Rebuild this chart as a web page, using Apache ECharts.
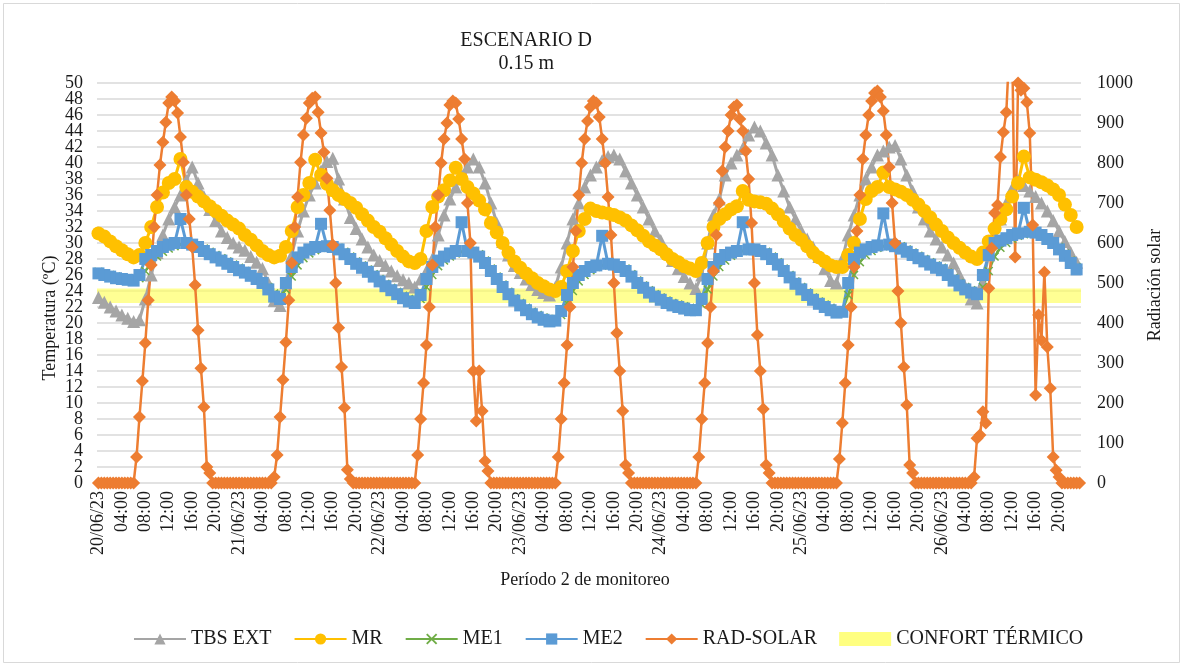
<!DOCTYPE html>
<html><head><meta charset="utf-8">
<script src="https://cdn.jsdelivr.net/npm/echarts@6/dist/echarts.min.js"></script>
<style>html,body{margin:0;padding:0;background:#fff}#c{width:1184px;height:667px}</style>
</head><body><div id="c"></div>
<script>
// ---- data ----
const dayLabels = ['20/06/23','21/06/23','22/06/23','23/06/23','24/06/23','25/06/23','26/06/23'];
// temperatures: hourly readings (24 per day)
const tbsExt = [
 23.2,22.6,22.0,21.5,21.0,20.6,20.2,20.4,23.0,26.0,28.8,31.0,33.0,34.5,36.0,37.8,39.5,37.5,35.8,34.2,32.8,31.5,30.7,30.0,
 29.5,29.1,28.3,27.6,26.8,25.0,22.8,22.2,25.0,28.5,31.5,34.0,36.0,37.5,39.0,40.2,40.6,38.0,35.5,33.2,31.8,30.5,29.5,28.5,
 27.8,27.2,26.5,25.9,25.4,25.0,24.5,25.5,26.5,28.0,31.0,33.5,35.5,37.0,38.5,39.5,40.5,39.5,37.5,35.0,32.5,30.2,28.5,27.2,
 26.3,25.5,24.8,24.2,23.8,23.5,24.5,27.0,30.0,33.0,35.0,37.0,38.5,39.5,40.3,40.8,41.0,40.5,39.0,37.5,36.0,34.5,33.0,31.5,
 30.3,29.0,27.8,26.8,25.8,25.0,24.3,26.0,30.0,33.5,35.5,38.5,40.0,41.0,41.8,43.5,44.5,44.0,42.5,41.0,38.5,36.5,34.5,33.0,
 31.5,30.5,29.5,28.3,26.8,25.3,25.0,28.0,31.0,33.5,36.0,38.0,39.5,41.0,41.5,42.0,42.2,40.5,38.5,36.5,34.5,33.0,31.5,30.5,
 29.5,28.5,27.5,26.0,24.5,23.0,22.5,25.0,28.5,30.5,33.0,35.0,36.8,37.8,37.2,36.5,35.8,35.0,34.0,32.8,31.5,30.2,28.8,27.6
];
const mr = [
 31.2,30.8,30.2,29.6,29.1,28.6,28.2,28.5,30.0,32.0,34.5,36.3,37.5,38.0,40.5,37.0,36.4,35.8,35.2,34.6,34.0,33.4,32.8,32.3,
 31.8,31.0,30.4,29.7,29.0,28.5,28.2,28.4,29.5,31.5,34.5,36.0,37.5,40.4,38.5,37.4,36.6,36.0,35.5,35.0,34.4,33.6,32.8,32.0,
 31.4,30.6,29.8,29.0,28.3,27.7,27.5,28.0,31.5,34.5,35.8,36.6,37.8,39.4,38.0,37.0,36.2,35.3,34.2,32.5,31.3,30.0,28.8,27.7,
 26.9,26.2,25.6,25.0,24.6,24.2,24.0,24.5,26.5,29.0,31.5,33.0,34.3,34.0,33.8,33.7,33.5,33.2,32.8,32.2,31.6,30.9,30.2,29.7,
 29.2,28.6,28.0,27.6,27.1,26.8,26.5,27.5,30.0,32.0,33.0,33.6,34.2,34.6,36.5,35.4,35.2,35.1,34.9,34.3,33.6,32.7,31.8,31.0,
 30.4,29.6,28.8,28.2,27.7,27.2,27.0,27.0,28.5,30.0,33.0,35.5,36.5,37.0,38.8,37.0,36.7,36.4,36.0,35.4,34.8,34.0,33.2,32.3,
 31.5,30.7,30.0,29.4,28.8,28.3,28.0,28.8,30.2,31.8,33.0,34.2,35.8,37.5,40.8,38.2,37.9,37.6,37.2,36.7,36.0,34.8,33.5,32.0
];
const me1 = [
 26.4,26.2,26.0,25.8,25.7,25.6,25.5,25.6,26.5,27.5,28.3,28.9,29.3,29.6,29.8,29.9,29.9,29.7,29.3,28.9,28.5,28.1,27.7,27.3,
 26.9,26.5,26.1,25.7,25.2,24.5,23.7,23.3,24.2,25.8,27.2,28.1,28.7,29.1,29.4,29.6,29.6,29.4,28.9,28.3,27.7,27.2,26.7,26.1,
 25.5,24.9,24.4,23.9,23.4,23.0,22.8,23.0,24.5,26.0,27.1,27.8,28.3,28.7,28.9,29.0,29.0,28.6,27.8,26.8,25.8,24.8,23.9,23.1,
 22.5,21.9,21.4,21.0,20.7,20.5,20.5,21.0,22.5,24.0,25.2,26.0,26.6,27.0,27.2,27.4,27.4,27.2,26.8,26.1,25.3,24.7,24.1,23.6,
 23.2,22.8,22.5,22.3,22.1,21.9,21.8,22.3,24.2,25.8,27.0,27.8,28.4,28.8,29.0,29.2,29.3,29.2,28.9,28.3,27.6,26.8,26.0,25.2,
 24.5,23.8,23.2,22.7,22.3,21.9,21.6,21.5,23.5,26.0,27.6,28.5,29.0,29.4,29.6,29.8,29.8,29.6,29.2,28.8,28.4,28.0,27.6,27.2,
 26.9,26.3,25.6,25.0,24.5,24.1,23.8,24.5,26.5,28.3,29.4,30.0,30.5,30.9,31.1,31.3,31.3,31.1,30.7,30.2,29.5,28.7,27.8,27.0
];
const me2 = [
 26.2,26.0,25.8,25.6,25.5,25.4,25.3,26.0,28.0,28.5,29.0,29.5,29.8,30.0,33.0,30.0,29.8,29.5,29.0,28.6,28.2,27.8,27.4,27.0,
 26.6,26.3,25.9,25.5,25.0,24.2,23.3,23.0,25.0,27.0,28.2,28.8,29.2,29.5,32.4,29.6,29.5,29.2,28.6,28.0,27.4,26.9,26.4,25.8,
 25.2,24.6,24.1,23.6,23.1,22.7,22.5,23.5,25.5,27.0,27.8,28.3,28.7,29.0,32.6,29.0,28.8,28.3,27.5,26.5,25.5,24.5,23.6,22.8,
 22.2,21.6,21.1,20.7,20.4,20.2,20.3,21.5,23.5,25.0,26.0,26.5,27.0,27.2,30.9,27.4,27.3,27.0,26.5,25.8,25.0,24.4,23.8,23.3,
 22.9,22.5,22.2,22.0,21.8,21.6,21.6,23.0,25.5,27.0,28.0,28.5,28.8,29.0,32.6,29.2,29.2,29.0,28.6,28.0,27.3,26.5,25.7,24.9,
 24.2,23.5,22.9,22.4,22.0,21.6,21.3,21.4,25.0,28.0,28.8,29.2,29.5,29.7,33.7,29.8,29.6,29.3,28.9,28.5,28.1,27.7,27.3,26.9,
 26.6,26.0,25.3,24.7,24.2,23.8,23.6,26.0,28.5,30.0,30.3,30.6,31.0,31.2,34.4,31.4,31.3,31.0,30.5,30.0,29.2,28.4,27.5,26.7
];
// solar radiation: half-hourly readings (48 per day)
const radSolar = [
 0,0,0,0,0,0,0,0,0,0,0,0,0,65,165,255,350,457,545,640,720,795,852,902,950,965,955,925,865,802,720,660,590,495,382,287,190,40,25,0,0,0,0,0,0,0,0,0,
 0,0,0,0,0,0,0,0,0,0,0,0,15,70,165,258,352,457,550,640,715,802,870,912,950,962,965,927,875,827,762,682,595,500,388,290,188,33,10,0,0,0,0,0,0,0,0,0,
 0,0,0,0,0,0,0,0,0,0,0,0,0,70,160,250,345,440,545,640,720,800,860,900,945,955,950,910,860,810,700,600,280,155,280,180,55,30,0,0,0,0,0,0,0,0,0,0,
 0,0,0,0,0,0,0,0,0,0,0,0,0,65,160,250,345,440,540,630,720,800,860,905,940,955,950,915,860,800,715,620,500,375,280,180,45,25,0,0,0,0,0,0,0,0,0,0,
 0,0,0,0,0,0,0,0,0,0,0,0,0,65,160,250,350,440,530,620,700,780,840,880,920,940,945,910,880,830,760,650,500,370,280,185,45,25,0,0,0,0,0,0,0,0,0,0,
 0,0,0,0,0,0,0,0,0,0,0,0,0,60,150,250,345,440,540,630,720,810,870,920,955,975,980,965,930,870,790,700,600,480,400,290,195,45,25,0,0,0,0,0,0,0,0,0,
 0,0,0,0,0,0,0,0,0,0,0,15,112,120,178,150,487,587,675,695,815,877,927,1080,1100,565,1000,982,987,952,875,645,220,420,357,527,340,237,65,32,15,0,0,0,0,0,0,0
];
const confortRange = [22.5, 24.3];
const tempTicks = {min: 0, max: 50, interval: 2};
const radTicks = {min: 0, max: 1000, interval: 100};

// categories: 30-min slots
const categories = [];
for (let d = 0; d < dayLabels.length; d++) {
  for (let s = 0; s < 48; s++) {
    const hh = String(Math.floor(s / 2)).padStart(2, '0');
    categories.push(s === 0 ? dayLabels[d] : hh + (s % 2 ? ':30' : ':00'));
  }
}
const hourly = arr => arr.map((v, i) => [i * 2, v]);

const FONT = 'Liberation Serif';
const TXT = '#1a1a1a';
const xPath = 'path://M0,1.2L1.2,0L5,3.8L8.8,0L10,1.2L6.2,5L10,8.8L8.8,10L5,6.2L1.2,10L0,8.8L3.8,5Z';
const leftLabel = {margin: 14, fontFamily: FONT, fontSize: 18, color: TXT};

const chart = echarts.init(document.getElementById('c'), null, {renderer: 'canvas'});
chart.setOption({
  animation: false,
  backgroundColor: '#fff',
  title: {
    text: 'ESCENARIO D\n0.15 m', left: 'center', top: 24,
    textStyle: {fontFamily: FONT, fontSize: 20, fontWeight: 'normal', lineHeight: 23, color: TXT},
    textAlign: 'center'
  },
  grid: {left: 97, right: 103, top: 83, bottom: 184},
  legend: {
    top: 624, left: 128, itemWidth: 52, itemHeight: 14, itemGap: 22,
    textStyle: {fontFamily: FONT, fontSize: 20, color: TXT},
    data: ['TBS EXT', 'MR', 'ME1', 'ME2', 'RAD-SOLAR', {name: 'CONFORT TÉRMICO', icon: 'rect'}]
  },
  xAxis: {
    type: 'category', data: categories, boundaryGap: true,
    axisLine: {show: false}, axisTick: {show: false},
    axisLabel: {interval: 7, rotate: 90, margin: 8, fontFamily: FONT, fontSize: 18, color: TXT}
  },
  yAxis: [
    // temperature axis: gridlines and inner labels
    {type: 'value', position: 'left', min: tempTicks.min, max: tempTicks.max, interval: tempTicks.interval,
     axisLine: {show: false}, axisTick: {show: false},
     axisLabel: Object.assign({showMinLabel: false, showMaxLabel: false}, leftLabel),
     splitLine: {lineStyle: {color: '#D9D9D9', width: 1.5}}},
    // radiation axis
    {type: 'value', position: 'right', min: radTicks.min, max: radTicks.max, interval: radTicks.interval,
     axisLine: {show: false}, axisTick: {show: false},
     axisLabel: {margin: 16, fontFamily: FONT, fontSize: 18, color: TXT, formatter: v => String(v)},
     splitLine: {show: false}},
    // temperature axis: end labels (0 and 50)
    {type: 'value', position: 'left', min: tempTicks.min, max: tempTicks.max, interval: tempTicks.max - tempTicks.min,
     axisLine: {show: false}, axisTick: {show: false}, splitLine: {show: false},
     axisLabel: leftLabel}
  ],
  graphic: [
    {type: 'rect', shape: {x: 3.5, y: 3.5, width: 1176, height: 659}, style: {fill: 'none', stroke: '#D9D9D9', lineWidth: 1}, silent: true},
    {type: 'text', x: 50, y: 318, rotation: Math.PI / 2,
     style: {text: 'Temperatura (ºC)', fontFamily: FONT, fontSize: 18, fill: TXT, align: 'center', verticalAlign: 'middle'}},
    {type: 'text', x: 1155, y: 285, rotation: Math.PI / 2,
     style: {text: 'Radiación solar', fontFamily: FONT, fontSize: 18, fill: TXT, align: 'center', verticalAlign: 'middle'}},
    {type: 'text', x: 585, y: 580,
     style: {text: 'Período 2 de monitoreo', fontFamily: FONT, fontSize: 18, fill: TXT, align: 'center', verticalAlign: 'middle'}}
  ],
  series: [
    {name: 'TBS EXT', type: 'line', data: hourly(tbsExt), symbol: 'triangle', symbolSize: 13, showAllSymbol: true,
     lineStyle: {color: '#A5A5A5', width: 3}, itemStyle: {color: '#A5A5A5'}},
    {name: 'MR', type: 'line', data: hourly(mr), symbol: 'circle', symbolSize: 14, showAllSymbol: true,
     lineStyle: {color: '#FFC000', width: 3}, itemStyle: {color: '#FFC000'}},
    {name: 'ME1', type: 'line', data: hourly(me1), symbol: xPath, symbolSize: 9, showAllSymbol: true,
     lineStyle: {color: '#70AD47', width: 2.5}, itemStyle: {color: '#70AD47'}},
    {name: 'ME2', type: 'line', data: hourly(me2), symbol: 'rect', symbolSize: 12, showAllSymbol: true,
     lineStyle: {color: '#5B9BD5', width: 3}, itemStyle: {color: '#5B9BD5'}},
    {name: 'RAD-SOLAR', type: 'line', yAxisIndex: 1, data: radSolar, symbol: 'diamond', symbolSize: 13, showAllSymbol: true,
     lineStyle: {color: '#ED7D31', width: 2.5}, itemStyle: {color: '#ED7D31'}},
    {name: 'CONFORT TÉRMICO', type: 'line', data: [], z: 5, itemStyle: {color: '#FFFF80'}, lineStyle: {color: '#FFFF80'},
     markArea: {silent: true, itemStyle: {color: 'rgba(255,255,90,0.65)'},
       data: [[{yAxis: confortRange[0]}, {yAxis: confortRange[1]}]]}}
  ]
});
</script></body></html>
